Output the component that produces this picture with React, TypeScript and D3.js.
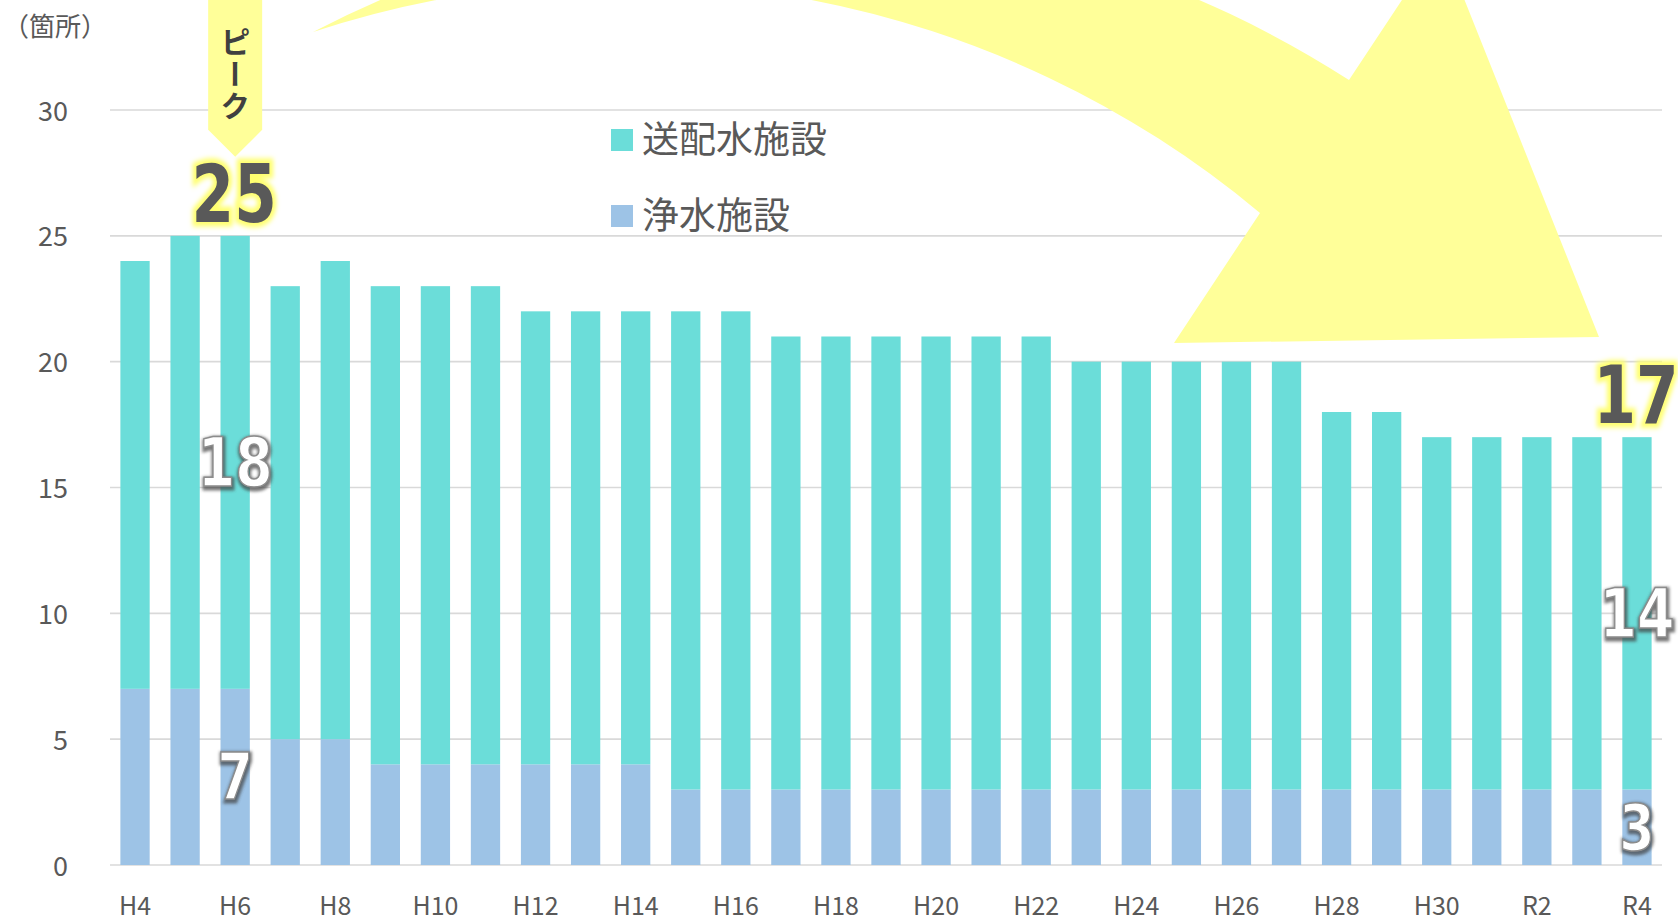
import React from 'react';
import * as d3 from 'd3';

const years = ['H4','H5','H6','H7','H8','H9','H10','H11','H12','H13','H14','H15','H16','H17','H18','H19','H20','H21','H22','H23','H24','H25','H26','H27','H28','H29','H30','R1','R2','R3','R4'];
// 浄水施設
const purification = [7,7,7,5,5,4,4,4,4,4,4,3,3,3,3,3,3,3,3,3,3,3,3,3,3,3,3,3,3,3,3];
// 送配水施設
const distribution = [17,18,18,18,19,19,19,19,18,18,18,19,19,18,18,18,18,18,18,17,17,17,17,17,15,15,14,14,14,14,14];
const seriesKeys = ['purification', 'distribution'];
const seriesNames = { distribution: '送配水施設', purification: '浄水施設' };
const seriesColors = { distribution: '#6BDDD9', purification: '#9DC3E6' };
const yTicks = [0, 5, 10, 15, 20, 25, 30];
const xTickLabels = ['H4','H6','H8','H10','H12','H14','H16','H18','H20','H22','H24','H26','H28','H30','R2','R4'];
const highlightYears = ['H6', 'R4'];
const peakYear = 'H6';
const unitLabel = '（箇所）';
const peakText = 'ピーク';

const W = 1678, H = 921;
const FONT = "'Noto Sans CJK JP', 'Noto Sans', sans-serif";
const NUMFONT = "'DejaVu Sans Condensed', 'DejaVu Sans', sans-serif";

export default function App() {
  const table = years.map((y, i) => ({ year: y, purification: purification[i], distribution: distribution[i] }));
  const stacked = d3.stack<any>().keys(seriesKeys)(table);

  const x = d3.scaleBand().domain(years).range([110, 1662]).paddingInner(0.415).paddingOuter(0.2075);
  const y = d3.scaleLinear().domain([0, 30]).range([865, 110]);
  const bw = x.bandwidth();

  // decorative curved arrow (annotation)
  const arrowPath = [
    'M313,32',
    'A1032,1032 0 0 1 1349,80',
    'L1441,-59',
    'L1599,337',
    'L1174,343',
    'L1260,213',
    'A992,992 0 0 0 313,32',
    'Z',
  ].join(' ');

  const px = (x(peakYear) as number) + bw / 2;
  const peakIdx = years.indexOf(peakYear);
  const peakTotal = purification[peakIdx] + distribution[peakIdx];
  const calloutTip = y(peakTotal) - 79;

  return (
    <svg width={W} height={H} style={{ position: 'absolute', left: 0, top: 0, background: '#fff' }}>
      <defs>
        <filter id="yglow" x="-30%" y="-30%" width="160%" height="160%">
          <feGaussianBlur stdDeviation="2.5" />
        </filter>
        <filter id="dshadow" x="-30%" y="-30%" width="160%" height="160%">
          <feGaussianBlur stdDeviation="1.6" />
        </filter>
      </defs>

      {/* gridlines */}
      {yTicks.map(t => (
        <line key={t} x1={110} x2={1662} y1={y(t)} y2={y(t)} stroke="#D9D9D9" strokeWidth={1.6} />
      ))}

      {/* arrow */}
      <path d={arrowPath} fill="#FFFF99" />

      {/* bars */}
      {stacked.map(s => (
        <g key={s.key} fill={(seriesColors as any)[s.key]}>
          {s.map((d: any, i: number) => (
            <rect key={i} x={x(years[i])} y={y(d[1])} width={bw} height={y(d[0]) - y(d[1])} />
          ))}
        </g>
      ))}

      {/* y tick labels */}
      {yTicks.map(t => (
        <text key={t} x={68} y={y(t) - 1} textAnchor="end" dominantBaseline="central" fontFamily={FONT} fontSize={27} fill="#595959">{t}</text>
      ))}
      {/* x tick labels */}
      {xTickLabels.map(l => (
        <text key={l} x={(x(l) as number) + bw / 2} y={915} textAnchor="middle" fontFamily={FONT} fontSize={25} fill="#595959">{l}</text>
      ))}
      <text x={3} y={24} dominantBaseline="central" fontFamily={FONT} fontSize={26} fill="#595959">{unitLabel}</text>

      {/* legend */}
      {['distribution', 'purification'].map((k, i) => (
        <g key={k}>
          <rect x={611} y={129 + i * 76} width={22} height={22} fill={(seriesColors as any)[k]} />
          <text x={642} y={137 + i * 76} dominantBaseline="central" fontFamily={FONT} fontSize={37} fill="#595959">{(seriesNames as any)[k]}</text>
        </g>
      ))}

      {/* peak callout */}
      <path d={`M${px - 27},0 L${px + 27},0 L${px + 27},${calloutTip - 27} L${px},${calloutTip} L${px - 27},${calloutTip - 27} Z`} fill="#FFFF99" />
      <text x={px} y={27} fontFamily={FONT} fontSize={30} fontWeight={700} fill="#404040" letterSpacing={2} style={{ writingMode: 'vertical-rl' } as any}>{peakText}</text>

      {/* data labels */}
      {highlightYears.map(yr => {
        const i = years.indexOf(yr);
        const cx = (x(yr) as number) + bw / 2;
        const p = purification[i], d = distribution[i], tot = p + d;
        const segs = [
          { v: p, cy: (y(0) + y(p)) / 2, size: 64 },
          { v: d, cy: (y(p) + y(tot)) / 2, size: 68 },
        ];
        return (
          <g key={yr}>
            {segs.map((s, j) => (
              <g key={j} transform={`translate(${cx},${s.cy}) scale(0.88,1)`} fontFamily={NUMFONT} fontWeight={700} fontSize={s.size} textAnchor="middle" style={{ fontStretch: 'condensed' }}>
                <text x={1} y={2} dominantBaseline="central" fill="#404040" stroke="#404040" strokeWidth={5} filter="url(#dshadow)" opacity={0.7}>{s.v}</text>
                <text x={0} y={0} dominantBaseline="central" fill="#FFFFFF" stroke="#8C8C8C" strokeWidth={1.5}>{s.v}</text>
              </g>
            ))}
            <g transform={`translate(${cx - 1},${y(tot) - 14}) scale(0.85,1)`} fontFamily={NUMFONT} fontWeight={700} fontSize={80} textAnchor="middle" style={{ fontStretch: 'condensed' }}>
              <text x={0} y={0} fill="#FFFF70" stroke="#FFFF70" strokeWidth={9} filter="url(#yglow)">{tot}</text>
              <text x={0} y={0} fill="#595959">{tot}</text>
            </g>
          </g>
        );
      })}
    </svg>
  );
}
